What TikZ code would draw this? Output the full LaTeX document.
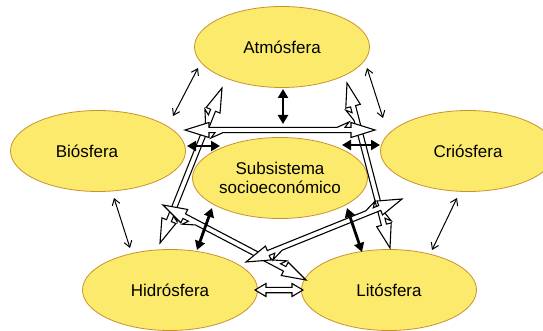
\documentclass[tikz,border=0pt]{standalone}
\usepackage{fontspec}
\setmainfont{Liberation Sans}
\usetikzlibrary{arrows.meta,shapes.geometric,calc}
\definecolor{elfill}{RGB}{252,234,108}
\definecolor{eldraw}{RGB}{200,145,45}
\begin{document}
\begin{tikzpicture}[x=1pt,y=-1pt,
  sphere/.style={ellipse, draw=eldraw, line width=0.8pt, fill=elfill,
    minimum width=175pt, minimum height=81pt, inner sep=0pt,
    font=\fontsize{17}{19}\selectfont, align=center},
  thinarr/.style={line width=1pt,
    {Straight Barb[length=6pt,width=8pt]}-{Straight Barb[length=6pt,width=8pt]}},
  thickarr/.style={line width=2.8pt,
    {Triangle[length=9pt,width=10pt]}-{Triangle[length=9pt,width=10pt]}},
  bolt/.style={draw=black, fill=white, line width=1.1pt, line join=miter,
    to path={let \p1=(\tikztostart), \p2=(\tikztotarget),
      \n1={atan2(\y2-\y1,\x2-\x1)}, \n2={veclen(\x2-\x1,\y2-\y1)} in
      {[shift={(\p1)}, rotate=\n1]
      (0,0) -- (24,7.5) -- (24,2.6) -- (30,2.6) -- (26,8) -- (38,2.6)
      -- (\n2-24,2.6) -- (\n2-24,7.5) -- (\n2,0) -- (\n2-24,-7.5) -- (\n2-24,-2.6)
      -- (\n2-30,-2.6) -- (\n2-26,-8) -- (\n2-38,-2.6) -- (24,-2.6) -- (24,-7.5) -- cycle}}},
  hollow/.style={draw=black, fill=white, line width=1.1pt, line join=miter,
    to path={let \p1=(\tikztostart), \p2=(\tikztotarget),
      \n1={atan2(\y2-\y1,\x2-\x1)}, \n2={veclen(\x2-\x1,\y2-\y1)} in
      {[shift={(\p1)}, rotate=\n1]
      (0,0) -- (11,6.5) -- (11,2.7) -- (\n2-11,2.7) -- (\n2-11,6.5) -- (\n2,0)
      -- (\n2-11,-6.5) -- (\n2-11,-2.7) -- (11,-2.7) -- (11,-6.5) -- cycle}}}
]
\useasboundingbox (0,0) rectangle (543,331);
\clip (0,0) rectangle (543,331);

% spheres
\node[sphere] (A) at (282,47) {Atmósfera};
\node[sphere] (B) at (98,151) {\kern-22pt Biósfera};
\node[sphere] (C) at (468,151) {Criósfera};
\node[sphere] (S) at (280,178) {Subsistema\\socioeconómico};
\node[sphere] (H) at (170,290) {Hidrósfera};
\node[sphere] (L) at (389,290) {Litósfera};

% connector ends
\coordinate (ab1) at (198,68);  \coordinate (ab2) at (173,116);
\coordinate (ac1) at (367,68);  \coordinate (ac2) at (383,118);
\coordinate (bh1) at (114,198); \coordinate (bh2) at (130,248);
\coordinate (cl1) at (457,198); \coordinate (cl2) at (432,250);
\coordinate (as1) at (283,89);  \coordinate (as2) at (283,124);
\coordinate (bs1) at (187,146); \coordinate (bs2) at (220,146);
\coordinate (cs1) at (342,145); \coordinate (cs2) at (380,145);
\coordinate (hs1) at (212,208); \coordinate (hs2) at (197,250);
\coordinate (ls1) at (347,208); \coordinate (ls2) at (362,252);
\coordinate (ah1) at (222,88);  \coordinate (ah2) at (160,243);
\coordinate (al1) at (347,83);  \coordinate (al2) at (390,248);
\coordinate (bl1) at (163,205); \coordinate (bl2) at (306,280);
\coordinate (ch1) at (402,199); \coordinate (ch2) at (246,262);
\coordinate (bc1) at (185,130); \coordinate (bc2) at (375,130);
\coordinate (hl1) at (255,290); \coordinate (hl2) at (303,290);

% thin arrows
\draw[thinarr] (ab1) -- (ab2);
\draw[thinarr] (ac1) -- (ac2);
\draw[thinarr] (bh1) -- (bh2);
\draw[thinarr] (cl1) -- (cl2);

% hollow lightning arrows
\path[bolt] (ah1) to (ah2);
\path[bolt] (al1) to (al2);
\path[bolt] (bl1) to (bl2);
\path[bolt] (ch1) to (ch2);
\path[bolt] (bc1) to (bc2);
\path[hollow] (hl1) to (hl2);

% thick arrows
\draw[thickarr] (as1) -- (as2);
\draw[thickarr] (bs1) -- (bs2);
\draw[thickarr] (cs1) -- (cs2);
\draw[thickarr] (hs1) -- (hs2);
\draw[thickarr] (ls1) -- (ls2);
\end{tikzpicture}
\end{document}
